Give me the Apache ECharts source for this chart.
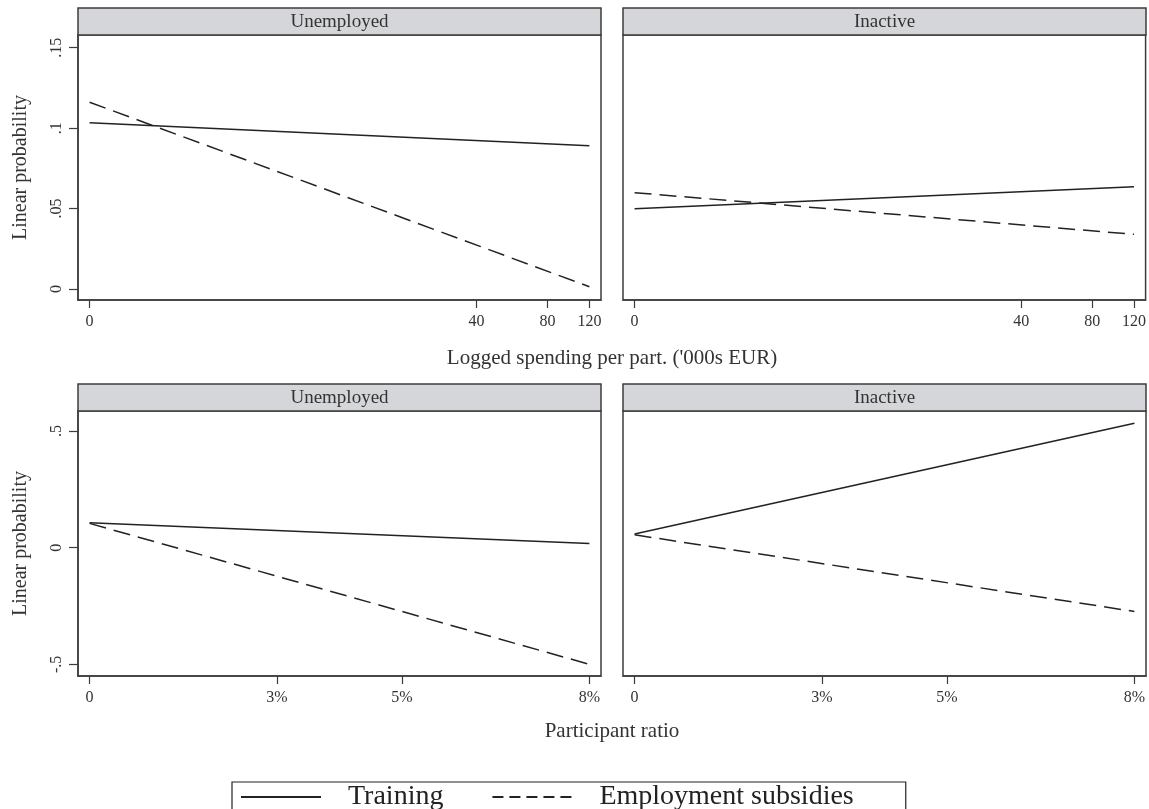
<!DOCTYPE html>
<html>
<head>
<meta charset="utf-8">
<script src="https://cdn.jsdelivr.net/npm/echarts@6/dist/echarts.min.js"></script>
<style>
  html, body { margin: 0; padding: 0; background: #fff; }
  #chart { width: 1149px; height: 809px; }
</style>
</head>
<body>
<div id="chart"></div>
<script>
// Panel titles and legend entries
const panelTitles = ['Unemployed', 'Inactive'];
const seriesNames = ['Training', 'Employment subsidies'];

// Spending per participant ('000s EUR), plotted on a log(1 + x) scale
const spendTicks = [0, 40, 80, 120];
const spendX = [0, 120];
const spendUnempTraining = [0.1034, 0.0891];
const spendUnempSubsidies = [0.1161, 0.0014];
const spendInactTraining = [0.0499, 0.0636];
const spendInactSubsidies = [0.0599, 0.0340];
const spendYTicks = [0, 0.05, 0.10, 0.15];
const spendYLabels = ['0', '.05', '.1', '.15'];

// Participant ratio (%)
const ratioTicks = [0, 3, 5, 8];
const ratioTickLabels = ['0', '3%', '5%', '8%'];
const ratioX = [0, 8];
const ratioUnempTraining = [0.107, 0.018];
const ratioUnempSubsidies = [0.104, -0.500];
const ratioInactTraining = [0.058, 0.533];
const ratioInactSubsidies = [0.055, -0.2735];
const ratioYTicks = [-0.5, 0, 0.5];
const ratioYLabels = ['-.5', '0', '.5'];

const FONT = 'Liberation Serif';
const INK = '#222';
const FRAME = '#3c3c3c';
const TEXT = '#333';

const logT = v => Math.log(1 + v);

// Panel geometry
const panelLeft = [78, 623];
const panelTop = [35, 411];
const panelW = 523, panelH = 265, stripH = 27;
const padFrac = 0.0232;

function padRange(lo, hi) {
  const span = hi - lo;
  return [lo - span * padFrac, hi + span * padFrac];
}

const spendRange = padRange(logT(spendTicks[0]), logT(spendTicks[spendTicks.length - 1]));
const ratioRange = padRange(ratioTicks[0], ratioTicks[ratioTicks.length - 1]);

const grids = [], xAxes = [], yAxes = [], series = [], graphics = [];

function addPanel(idx, row, col, xType, lines) {
  grids.push({
    left: panelLeft[col], top: panelTop[row], width: panelW, height: panelH,
    show: true, borderColor: FRAME, borderWidth: 1.5, backgroundColor: '#fff'
  });
  const isSpend = xType === 'spend';
  const xTickVals = isSpend ? spendTicks.map(logT) : ratioTicks;
  const xRange = isSpend ? spendRange : ratioRange;
  xAxes.push({
    type: 'value', gridIndex: idx, min: xRange[0], max: xRange[1],
    splitLine: { show: false },
    axisLine: { show: true, onZero: false, lineStyle: { color: FRAME, width: 1.5 } },
    axisTick: { show: true, length: 8, customValues: xTickVals, lineStyle: { color: FRAME, width: 1.2 } },
    axisLabel: {
      show: true, customValues: xTickVals, margin: 14,
      fontFamily: FONT, fontSize: 16, color: TEXT,
      formatter: v => {
        const i = xTickVals.findIndex(t => Math.abs(t - v) < 1e-6);
        return isSpend ? String(spendTicks[i]) : ratioTickLabels[i];
      }
    }
  });
  const yTicks = isSpend ? spendYTicks : ratioYTicks;
  const yLabels = isSpend ? spendYLabels : ratioYLabels;
  const yRange = isSpend ? [-0.00684, 0.1579] : [-0.55, 0.5855];
  const showY = col === 0;
  yAxes.push({
    type: 'value', gridIndex: idx, min: yRange[0], max: yRange[1],
    splitLine: { show: false },
    name: showY ? 'Linear probability' : '',
    nameLocation: 'middle', nameGap: 47,
    nameTextStyle: { fontFamily: FONT, fontSize: 20, color: TEXT },
    axisLine: { show: showY, onZero: false, lineStyle: { color: FRAME, width: 1.5 } },
    axisTick: { show: showY, length: 9, customValues: yTicks, lineStyle: { color: FRAME, width: 1.2 } },
    axisLabel: {
      show: showY, customValues: yTicks, rotate: 90, margin: 13,
      fontFamily: FONT, fontSize: 16, color: TEXT,
      formatter: v => {
        const i = yTicks.findIndex(t => Math.abs(t - v) < 1e-9);
        return yLabels[i];
      }
    }
  });
  const xs = isSpend ? spendX.map(logT) : ratioX;
  lines.forEach((vals, k) => {
    series.push({
      name: seriesNames[k], type: 'line', xAxisIndex: idx, yAxisIndex: idx,
      data: xs.map((x, j) => [x, vals[j]]),
      symbol: 'none', silent: true,
      lineStyle: k === 0
        ? { color: INK, width: 1.5, type: 'solid' }
        : { color: INK, width: 1.5, type: [17, 8] },
      itemStyle: { color: INK }
    });
  });
  // Title strip above the panel
  const sx = panelLeft[col], sy = panelTop[row] - stripH;
  graphics.push({
    type: 'rect', shape: { x: sx, y: sy, width: panelW, height: stripH },
    style: { fill: '#d5d6d9', stroke: FRAME, lineWidth: 1.5 }, z: 10
  });
  graphics.push({
    type: 'text', x: sx + panelW / 2, y: sy + stripH / 2 + 1, z: 11,
    style: { text: panelTitles[col], fontFamily: FONT, fontSize: 19, fill: TEXT, align: 'center', verticalAlign: 'middle' }
  });
}

addPanel(0, 0, 0, 'spend', [spendUnempTraining, spendUnempSubsidies]);
addPanel(1, 0, 1, 'spend', [spendInactTraining, spendInactSubsidies]);
addPanel(2, 1, 0, 'ratio', [ratioUnempTraining, ratioUnempSubsidies]);
addPanel(3, 1, 1, 'ratio', [ratioInactTraining, ratioInactSubsidies]);

// Shared x-axis titles, centred across both panels of each row
graphics.push({
  type: 'text', x: 612, y: 358,
  style: { text: "Logged spending per part. ('000s EUR)", fontFamily: FONT, fontSize: 21, fill: TEXT, align: 'center', verticalAlign: 'middle' }
});
graphics.push({
  type: 'text', x: 612, y: 731,
  style: { text: 'Participant ratio', fontFamily: FONT, fontSize: 21, fill: TEXT, align: 'center', verticalAlign: 'middle' }
});

const chart = echarts.init(document.getElementById('chart'), null, { renderer: 'canvas' });
chart.setOption({
  animation: false,
  backgroundColor: '#fff',
  grid: grids,
  xAxis: xAxes,
  yAxis: yAxes,
  series: series,
  graphic: graphics,
  legend: {
    data: [
      { name: seriesNames[0] },
      { name: seriesNames[1], lineStyle: { type: [11, 6] } }
    ],
    left: 232, top: 782,
    padding: [1, 52, 18, 8],
    itemWidth: 80, itemHeight: 14, itemGap: 48,
    borderColor: '#222', borderWidth: 1.2, backgroundColor: '#fff',
    textStyle: { fontFamily: FONT, fontSize: 28, color: '#222', padding: [0, 0, 0, 22] },
    itemStyle: { opacity: 0, borderWidth: 0 },
    lineStyle: { width: 2 },
    selectedMode: false
  }
});
</script>
</body>
</html>
